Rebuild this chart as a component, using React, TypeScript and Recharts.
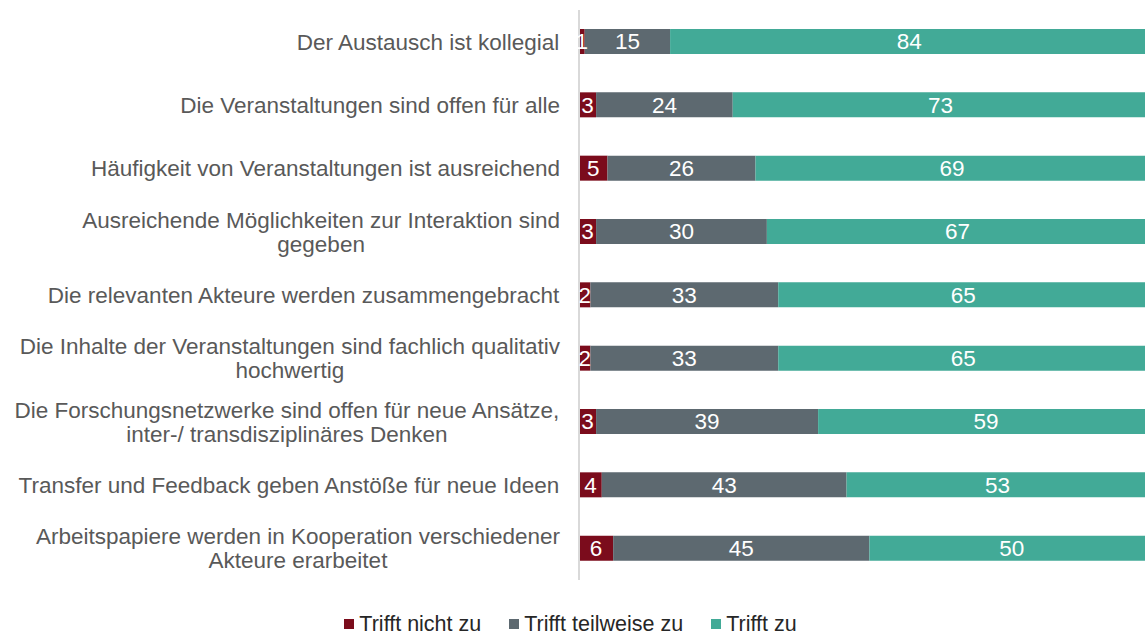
import React from 'react';
import { BarChart, Bar, XAxis, YAxis, Legend, LabelList } from 'recharts';

// statement labels, top to bottom ("\n" = line break as in the original)
const statements = [
	'Der Austausch ist kollegial',
	'Die Veranstaltungen sind offen für alle',
	'Häufigkeit von Veranstaltungen ist ausreichend',
	'Ausreichende Möglichkeiten zur Interaktion sind\ngegeben',
	'Die relevanten Akteure werden zusammengebracht',
	'Die Inhalte der Veranstaltungen sind fachlich qualitativ\nhochwertig',
	'Die Forschungsnetzwerke sind offen für neue Ansätze,\ninter-/ transdisziplinäres Denken',
	'Transfer und Feedback geben Anstöße für neue Ideen',
	'Arbeitspapiere werden in Kooperation verschiedener\nAkteure erarbeitet',
];

const nichtZu = [1, 3, 5, 3, 2, 2, 3, 4, 6];
const teilweiseZu = [15, 24, 26, 30, 33, 33, 39, 43, 45];
const trifftZu = [84, 73, 69, 67, 65, 65, 59, 53, 50];

const SERIES = [
	{ key: 'nicht', name: 'Trifft nicht zu', color: '#7B0C1C' },
	{ key: 'teilweise', name: 'Trifft teilweise zu', color: '#5D6970' },
	{ key: 'zu', name: 'Trifft zu', color: '#42AA97' },
];

const FONT = '"Liberation Sans", Arial, sans-serif';
const TEXT_SIZE = 22.5;
const LEGEND_SIZE = 21.5;

const data = statements.map((name, i) => ({
	name,
	nicht: nichtZu[i],
	teilweise: teilweiseZu[i],
	zu: trifftZu[i],
}));

let ctx: CanvasRenderingContext2D | null = null;
function measure(text: string) {
	if (!ctx) ctx = document.createElement('canvas').getContext('2d');
	if (!ctx) return text.length * TEXT_SIZE * 0.5;
	ctx.font = `${TEXT_SIZE}px ${FONT}`;
	return ctx.measureText(text).width;
}

// multi-line labels: block is right aligned, lines centered inside it
const StatementTick = ({ x, y, payload }: any) => {
	const lines = String(payload.value).split('\n');
	const blockW = Math.max(...lines.map(measure));
	const cx = x - blockW / 2;
	const lh = 24;
	return (
		<text textAnchor="middle" fill="#595959" fontSize={TEXT_SIZE} fontFamily={FONT}>
			{lines.map((l, i) => (
				<tspan key={i} x={cx} y={y + (i - (lines.length - 1) / 2) * lh} dy="0.35em">
					{l}
				</tspan>
			))}
		</text>
	);
};

const LegendBox = () => (
	<div
		style={{
			height: 56,
			paddingTop: 32,
			paddingRight: 21,
			boxSizing: 'border-box',
			display: 'flex',
			justifyContent: 'center',
			alignItems: 'flex-start',
			gap: 28,
			fontFamily: FONT,
			fontSize: LEGEND_SIZE,
			color: '#262626',
		}}
	>
		{SERIES.map((s) => (
			<div key={s.key} style={{ display: 'flex', alignItems: 'center', lineHeight: '24px' }}>
				<span style={{ width: 10, height: 10, background: s.color, marginRight: 5, display: 'inline-block' }} />
				{s.name}
			</div>
		))}
	</div>
);

export default function App() {
	return (
		<div
			style={{
				position: 'fixed',
				left: 0,
				top: 0,
				width: 1145,
				height: 636,
				padding: 8,
				boxSizing: 'border-box',
				overflow: 'hidden',
				background: '#fff',
			}}
		>
			<BarChart
				width={1146}
				height={628}
				data={data}
				layout="vertical"
				margin={{ top: 2, right: 0, left: 0, bottom: 0 }}
				barSize={25}
			>
				<XAxis type="number" domain={[0, 100]} hide />
				<YAxis
					type="category"
					dataKey="name"
					width={571}
					interval={0}
					tickLine={false}
					tickMargin={13}
					axisLine={{ stroke: '#D9D9D9', strokeWidth: 2 }}
					tick={<StatementTick />}
				/>
				<Legend verticalAlign="bottom" content={<LegendBox />} />
				{SERIES.map((s) => (
					<Bar key={s.key} dataKey={s.key} name={s.name} stackId="a" fill={s.color} isAnimationActive={false}>
						<LabelList dataKey={s.key} position="center" fill="#ffffff" fontSize={TEXT_SIZE} fontFamily={FONT} />
					</Bar>
				))}
			</BarChart>
		</div>
	);
}
